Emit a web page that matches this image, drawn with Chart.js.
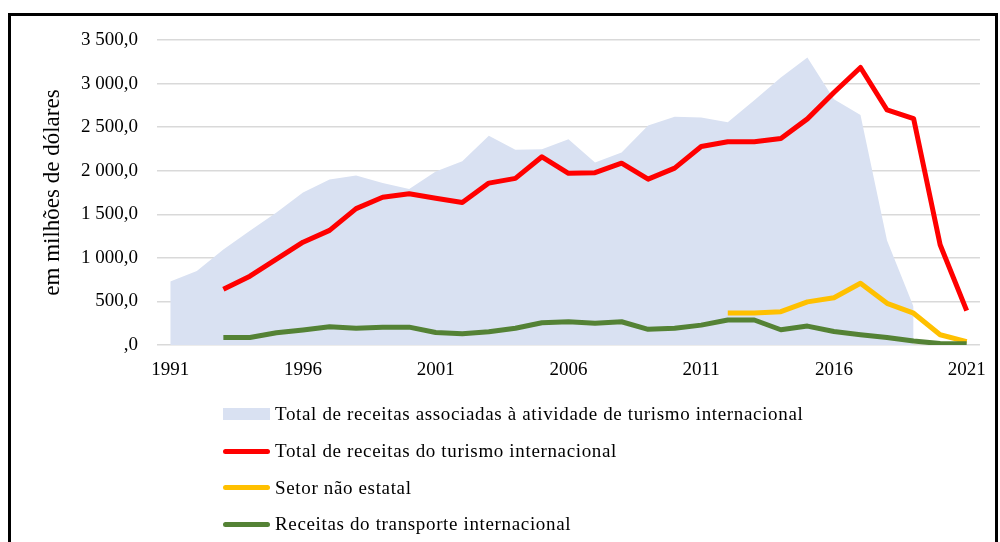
<!DOCTYPE html>
<html lang="pt">
<head>
<meta charset="UTF-8">
<title>Receitas do turismo internacional</title>
<script src="https://cdn.jsdelivr.net/npm/chart.js"></script>
<style>
  html, body { margin: 0; padding: 0; background: #fff; }
  body { width: 1000px; height: 542px; overflow: hidden; position: relative; }
  #frame { position: absolute; left: 8px; top: 13px; width: 984px; height: 600px; border: 3px solid #000; }
  #chart { position: absolute; left: 0; top: 0; }
  #legend { position: absolute; left: 223px; top: 396px; font-family: "Liberation Serif", serif; font-size: 19px; letter-spacing: 0.65px; color: #000; }
  #legend .row { display: flex; align-items: center; height: 36.7px; }
  #legend .sw { width: 47px; margin-right: 5px; }
</style>
</head>
<body>
<div id="frame"></div>
<canvas id="chart" width="1000" height="542"></canvas>
<div id="legend"></div>
<script>
// anos 1991-2021
const anos = [];
for (let a = 1991; a <= 2021; a++) anos.push(String(a));

// valores em milhões de dólares (null = sem dado)
const totalAssociadas = [730, 850, 1095, 1310, 1520, 1750, 1900, 1945, 1860, 1790,
  1990, 2110, 2400, 2240, 2245, 2360, 2095, 2210, 2520, 2620,
  2610, 2555, 2810, 3070, 3300, 2820, 2640, 1200, 440, null, null];
const totalTurismo = [null, null, 640, 790, 985, 1180, 1315, 1565, 1695, 1735,
  1685, 1635, 1858, 1912, 2160, 1970, 1977, 2086, 1903, 2030,
  2278, 2333, 2333, 2370, 2595, 2898, 3185, 2697, 2598, 1150, 395];
const setorNaoEstatal = [null, null, null, null, null, null, null, null, null, null,
  null, null, null, null, null, null, null, null, null, null,
  null, 368, 368, 382, 495, 543, 708, 478, 365, 118, 38];
const transporte = [null, null, 85, 87, 140, 172, 210, 193, 204, 205,
  143, 128, 152, 192, 255, 267, 250, 267, 180, 191,
  228, 287, 287, 175, 217, 155, 117, 85, 45, 17, 13];

const fonte = 'Liberation Serif';

function fmt(v) {
  if (v === 0) return ',0';
  const s = String(Math.round(v));
  const mil = s.length > 3 ? s.slice(0, -3) + ' ' + s.slice(-3) : s;
  return mil + ',0';
}

const linha = (label, data, cor, ordem) => ({
  label, data,
  borderColor: cor, backgroundColor: cor,
  borderWidth: 5, pointRadius: 0, tension: 0,
  borderCapStyle: 'butt', borderJoinStyle: 'round',
  fill: false, order: ordem
});

const chart = new Chart(document.getElementById('chart'), {
  type: 'line',
  data: {
    labels: anos,
    datasets: [
      {
        label: 'Total de receitas associadas à atividade de turismo internacional',
        data: totalAssociadas,
        backgroundColor: '#d9e1f2',
        borderColor: '#d9e1f2',
        borderWidth: 0, pointRadius: 0, tension: 0,
        fill: 'origin', order: 10
      },
      linha('Total de receitas do turismo internacional', totalTurismo, '#ff0000', 1),
      linha('Setor não estatal', setorNaoEstatal, '#ffc000', 3),
      linha('Receitas do transporte internacional', transporte, '#548235', 2)
    ]
  },
  options: {
    responsive: false,
    animation: false,
    layout: { padding: { left: 0, right: 20, top: 40, bottom: 0 } },
    plugins: { legend: { display: false }, tooltip: { enabled: false } },
    scales: {
      x: {
        offset: true,
        grid: { display: false, drawTicks: false },
        border: { display: false },
        ticks: {
          autoSkip: false, maxRotation: 0, padding: 14,
          color: '#000', font: { family: fonte, size: 19 },
          callback: (v, i) => (i % 5 === 0 ? anos[i] : '')
        },
        afterFit: s => { s.height = 197; }
      },
      y: {
        min: 0, max: 3500,
        grid: { color: '#d9d9d9', lineWidth: 1.5, drawTicks: false },
        border: { display: false },
        ticks: {
          stepSize: 500, padding: 19,
          color: '#000', font: { family: fonte, size: 19 },
          callback: v => fmt(v)
        },
        title: {
          display: true, text: 'em milhões de dólares',
          color: '#000', font: { family: fonte, size: 23 },
          padding: { top: 39, bottom: 0 }
        },
        afterFit: s => { s.width = 157; }
      }
    }
  }
});

// legenda em coluna, abaixo do gráfico
const leg = document.getElementById('legend');
chart.data.datasets.forEach((ds, i) => {
  const row = document.createElement('div');
  row.className = 'row';
  const sw = document.createElement('span');
  sw.className = 'sw';
  if (i === 0) {
    sw.style.height = '12px';
    sw.style.background = ds.backgroundColor;
  } else {
    sw.style.height = '5px';
    sw.style.borderRadius = '3px';
    sw.style.background = ds.borderColor;
  }
  const txt = document.createElement('span');
  txt.textContent = ds.label;
  row.appendChild(sw);
  row.appendChild(txt);
  leg.appendChild(row);
});
</script>
</body>
</html>
